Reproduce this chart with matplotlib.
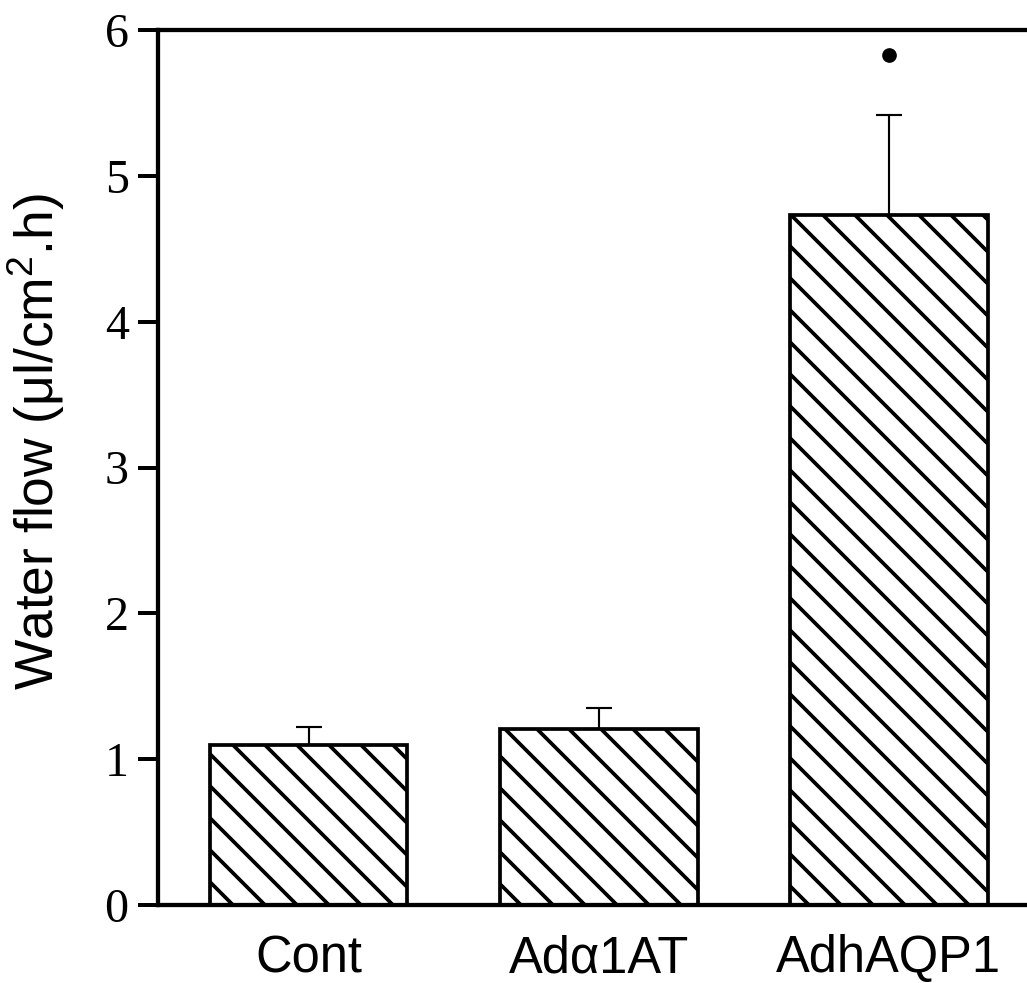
import numpy as np
import matplotlib
matplotlib.use("Agg")
import matplotlib.pyplot as plt

groups = ["Cont", "Adα1AT", "AdhAQP1"]
flow = [1.10, 1.21, 4.73]
flow_err = [0.12, 0.14, 0.69]
sig_group = 2
sig_y = 5.83

plt.rcParams['font.family'] = ['Liberation Sans', 'DejaVu Sans']
plt.rcParams['mathtext.default'] = 'regular'
plt.rcParams['hatch.linewidth'] = 1.4

dpi = 192
fig = plt.figure(figsize=(1027 / dpi, 983 / dpi), dpi=dpi)
ax = fig.add_axes([158 / 1027, 78 / 983, 905 / 1027, 875 / 983])

x = np.arange(len(groups))
ax.bar(x, flow, width=0.68, color='white', edgecolor='black', linewidth=1.4,
       hatch='\\\\', zorder=2)
ax.errorbar(x, flow, yerr=[np.zeros(len(flow)), flow_err], fmt='none',
            ecolor='black', elinewidth=0.8, capsize=5, capthick=0.8, zorder=1)
ax.plot([x[sig_group]], [sig_y], 'o', color='black', markersize=4.5)

ax.set_xlim(-0.52, 2.6)
ax.set_ylim(0, 6)
ax.set_yticks(range(7))
ax.set_xticks(x)
ax.set_xticklabels(groups, fontsize=19)
ax.tick_params(axis='x', length=0, pad=11)
ax.tick_params(axis='y', length=7.5, width=1.5, pad=3.5, labelsize=18)
for lab in ax.get_yticklabels():
    lab.set_family('Liberation Serif')

ax.spines['right'].set_visible(False)
for s in ['left', 'top', 'bottom']:
    ax.spines[s].set_linewidth(1.6)

ax.set_ylabel('Water flow (μl/cm$^{2}$.h)', fontsize=20)
ax.yaxis.set_label_coords(-0.1, 0.53)

fig.savefig('out.png', dpi=dpi)
